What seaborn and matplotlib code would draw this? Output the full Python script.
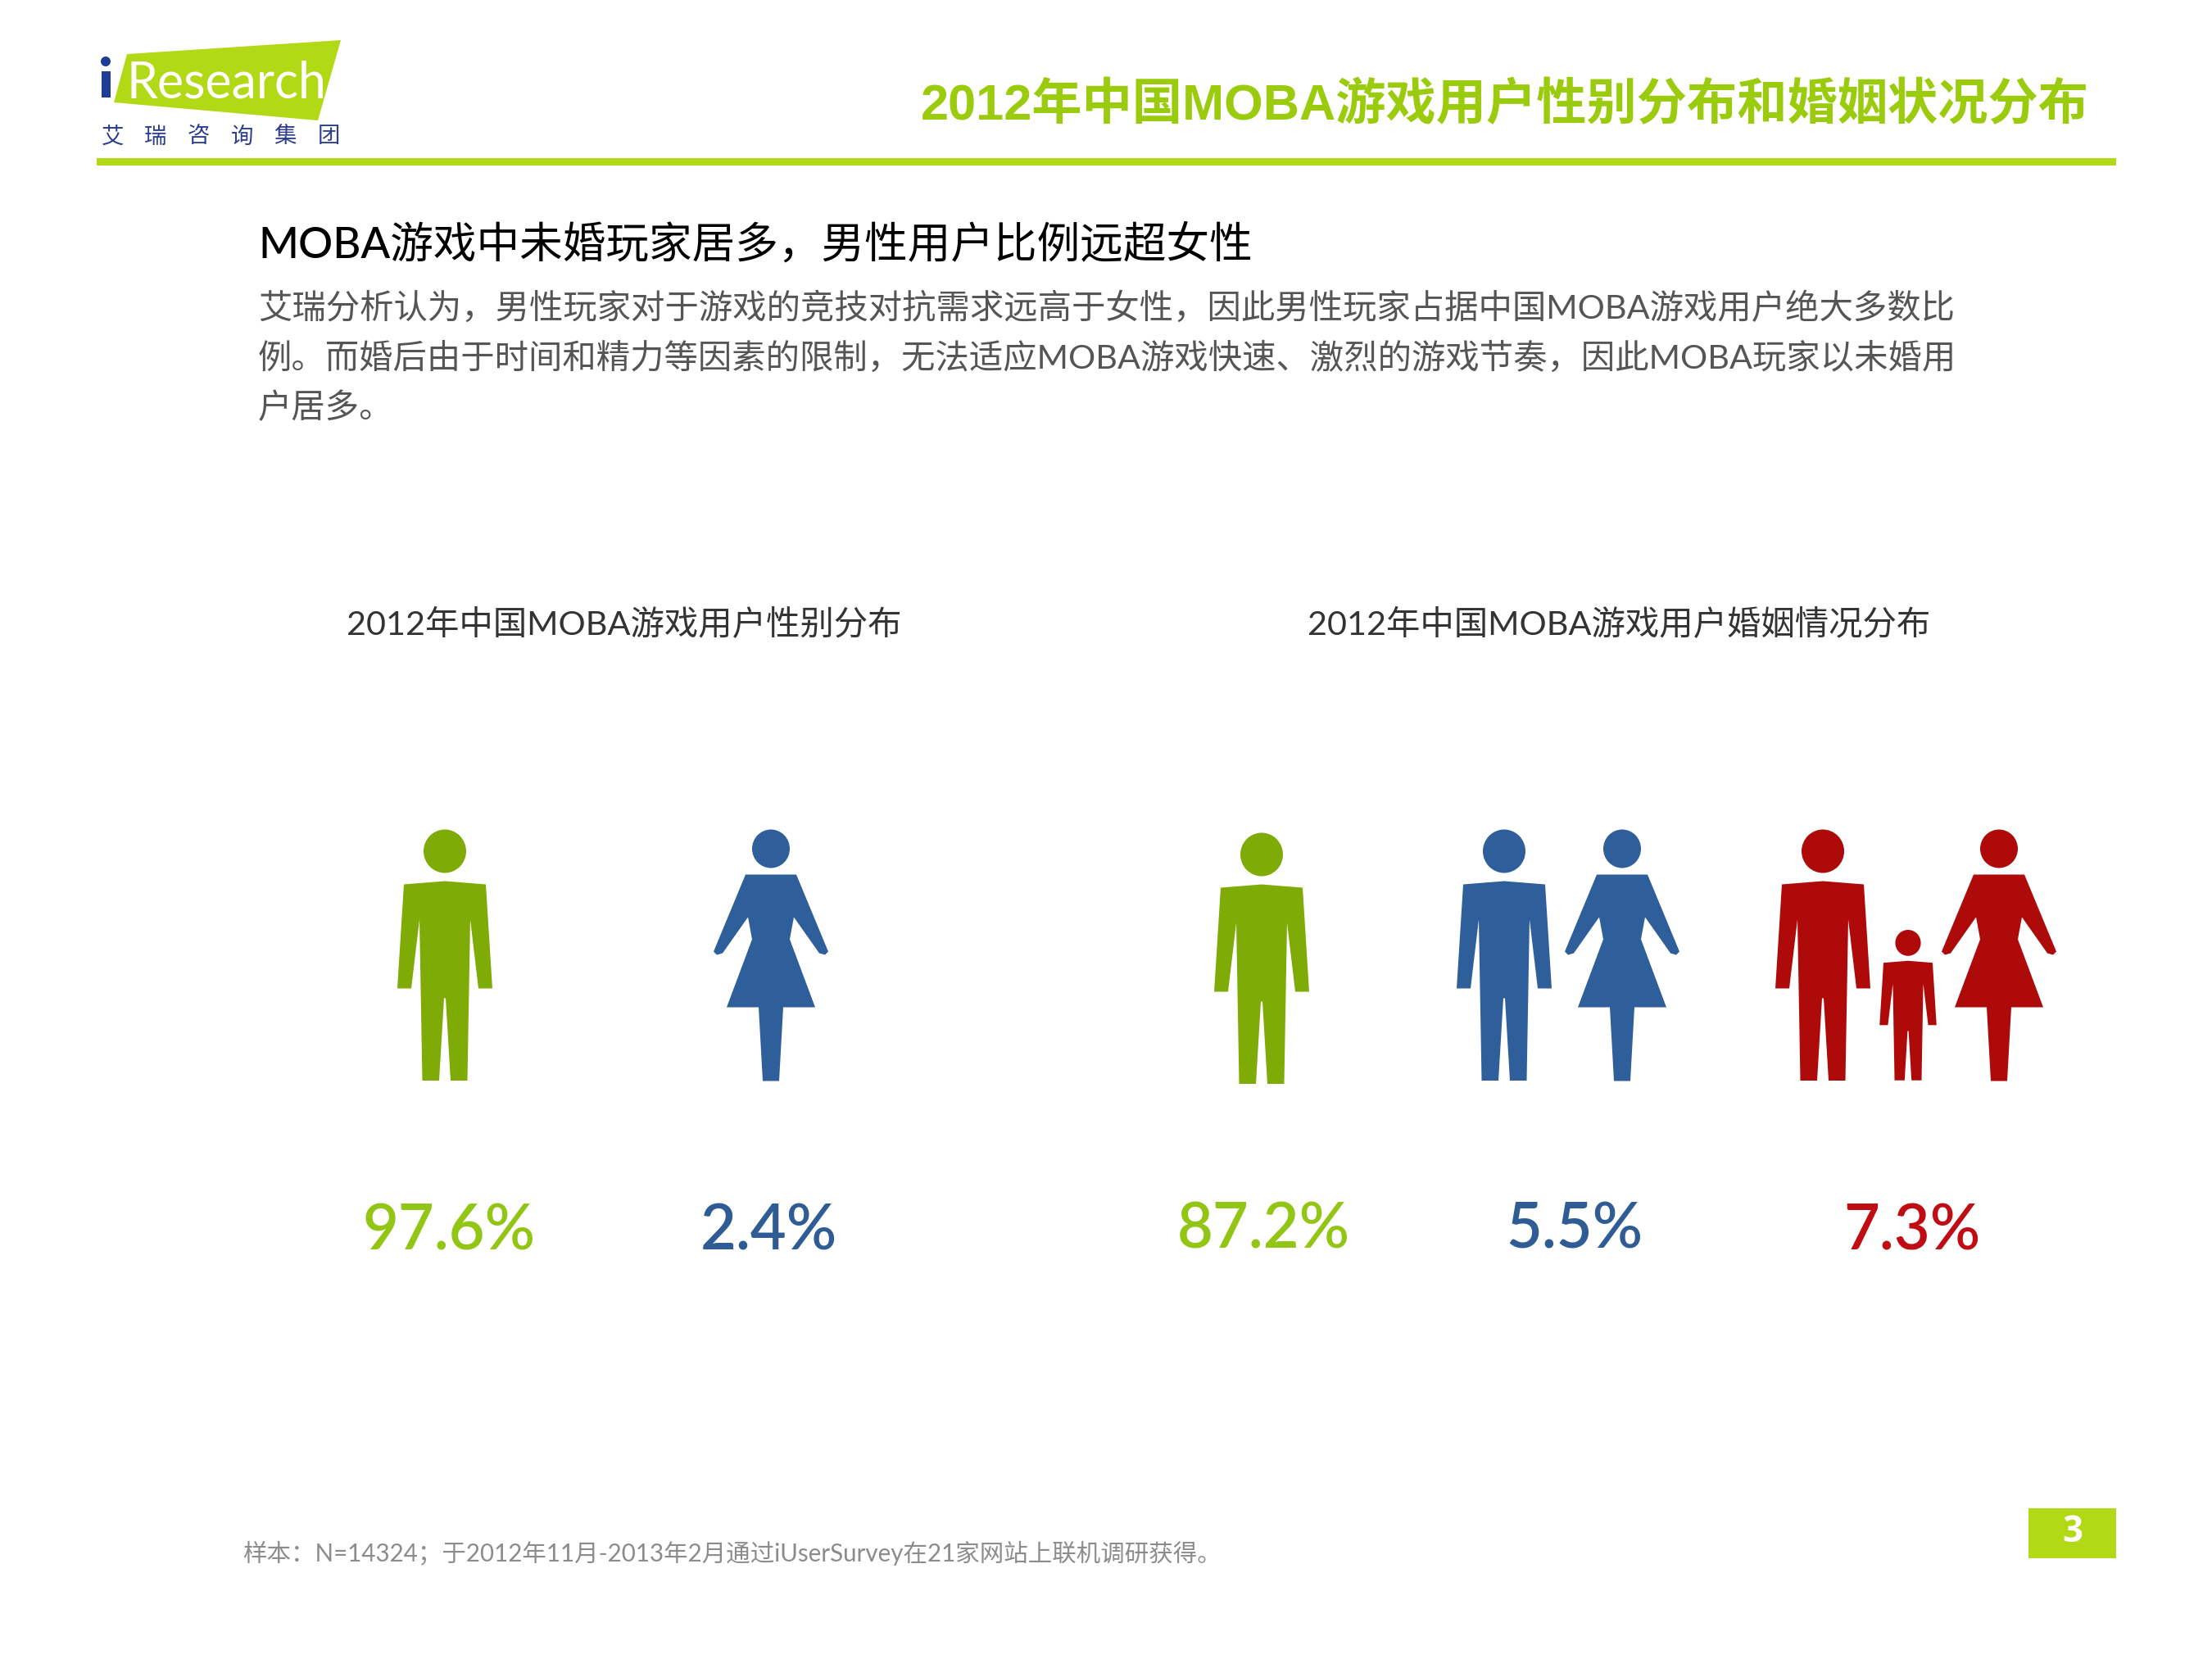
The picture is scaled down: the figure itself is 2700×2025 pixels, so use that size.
import matplotlib
matplotlib.use("Agg")
import matplotlib.pyplot as plt
import numpy as np
import pandas as pd
import seaborn as sns
from matplotlib.markers import MarkerStyle
from matplotlib.path import Path
from matplotlib.transforms import Affine2D

# chart values
gender_labels = ["男性", "女性"]
gender_share = [97.6, 2.4]
marital_labels = ["未婚", "已婚无子女", "已婚有子女"]
marital_share = [87.2, 5.5, 7.3]

page_title = "2012年中国MOBA游戏用户性别分布和婚姻状况分布"
headline = "MOBA游戏中未婚玩家居多，男性用户比例远超女性"
body_lines = [
    "艾瑞分析认为，男性玩家对于游戏的竞技对抗需求远高于女性，因此男性玩家占据中国MOBA游戏用户绝大多数比",
    "例。而婚后由于时间和精力等因素的限制，无法适应MOBA游戏快速、激烈的游戏节奏，因此MOBA玩家以未婚用",
    "户居多。",
]
gender_title = "2012年中国MOBA游戏用户性别分布"
marital_title = "2012年中国MOBA游戏用户婚姻情况分布"
source_note = "样本：N=14324；于2012年11月-2013年2月通过iUserSurvey在21家网站上联机调研获得。"
logo_name = "Research"
logo_cn = list("艾瑞咨询集团")
page_number = "3"

GREEN, BLUE, RED = "#7FAB06", "#2E5F9B", "#AE0A0A"
GREEN_TXT, BLUE_TXT, RED_TXT = "#93C514", "#2F5C95", "#C00D14"
LIME = "#B2D915"
NAVY = "#2D3D8F"

CJK = "Noto Sans CJK SC"
LATIN = "Lato"


def silhouette(half, head_w, head_h):
    # half outline (left side, top to bottom) mirrored to a full body, y up, head on top
    half = np.array(half, dtype=float)
    right = half[::-1].copy()
    right[:, 0] *= -1
    body = np.vstack([half, right])
    body[:, 1] = 153.5 - body[:, 1]
    head = Path.unit_circle().transformed(
        Affine2D().scale(head_w / 2, head_h / 2).translate(0, 153.5 - head_h / 2)
    )
    body_path = Path(np.vstack([body, body[0]]), closed=True)
    return MarkerStyle(Path.make_compound_path(body_path, head))


man_outline = [(0, 63), (-50, 67), (-58, 194), (-41, 194), (-31, 110), (-27.5, 306.5), (-7, 306.5), (-1, 206)]
woman_outline = [(-31, 55), (-70, 149), (-66, 153), (-59, 151), (-28, 107), (-23, 134), (-54, 217),
                 (-15, 217), (-10, 307)]

shapes = {
    "man": silhouette(man_outline, 52, 53),
    "woman": silhouette(woman_outline, 46, 47),
    "child": silhouette(man_outline, 52, 53),
}
# marker heights in points^2 (307 px tall adult, 184 px child, 300 dpi)
areas = {"man": (307 * 0.24) ** 2, "woman": (307 * 0.24) ** 2, "child": (184 * 0.24) ** 2}

people = pd.DataFrame(
    [
        ("man", "green", 543, 1166),
        ("woman", "blue", 941, 1166),
        ("man", "green", 1540, 1170),
        ("man", "blue", 1836, 1166),
        ("woman", "blue", 1980, 1166),
        ("man", "red", 2225, 1166),
        ("child", "red", 2329, 1227),
        ("woman", "red", 2440, 1166),
    ],
    columns=["kind", "group", "x", "y"],
)

sns.set_theme(style="white")
plt.rcParams["font.family"] = [LATIN, CJK, "DejaVu Sans"]

fig = plt.figure(figsize=(9, 6.75), dpi=300, facecolor="white")
ax = fig.add_axes([0, 0, 1, 1])

sns.scatterplot(
    data=people, x="x", y="y",
    hue="group", palette={"green": GREEN, "blue": BLUE, "red": RED},
    style="kind", markers=shapes,
    size="kind", sizes=areas,
    edgecolor="none", linewidth=0, legend=False, ax=ax,
)
ax.set_xlim(0, 2700)
ax.set_ylim(2025, 0)
ax.axis("off")

# logo
ax.fill([155, 416, 388, 139], [66, 49, 147, 125], color=LIME, lw=0)
ax.text(155, 119, logo_name, color="white", fontsize=14.6, family=["Lato"], va="baseline")
ax.add_patch(plt.Rectangle((124, 87), 11, 32, color="#1F3C96", lw=0))
ax.add_patch(plt.Circle((129, 75), 6, color="#1F3C96", lw=0))
for cx, ch in zip(np.linspace(137, 401, len(logo_cn)), logo_cn):
    ax.text(cx, 167, ch, color=NAVY, fontsize=6.6, family=[CJK], ha="center", va="center", fontweight="light")

# header
ax.add_patch(plt.Rectangle((118, 193), 2465, 9, color=LIME, lw=0))
ax.text(2550, 146, page_title, color="#9BCB0D", fontsize=14.7, fontweight="bold",
        family=["Liberation Sans", CJK], ha="right", va="baseline")

# text block
ax.text(315, 315, headline, color="black", fontsize=12.64, fontweight="medium", va="baseline")
for y, line in zip([389, 450, 510], body_lines):
    ax.text(315, y, line, color="#555555", fontsize=9.93, va="baseline")

ax.text(423, 775, gender_title, color="#333333", fontsize=9.95, va="baseline")
ax.text(1596, 775, marital_title, color="#333333", fontsize=9.95, va="baseline")

# percentages
for cx, v, c in zip([548, 938], gender_share, [GREEN_TXT, BLUE_TXT]):
    ax.text(cx, 1526, f"{v}%", color=c, fontsize=18.2, fontweight="semibold", ha="center", va="baseline")
for cx, by, v, c in zip([1542, 1922, 2334], [1523, 1523, 1526], marital_share, [GREEN_TXT, BLUE_TXT, RED_TXT]):
    ax.text(cx, by, f"{v}%", color=c, fontsize=18.2, fontweight="semibold", ha="center", va="baseline")

# footer
ax.text(296, 1906, source_note, color="#8C8C8C", fontsize=7.09, va="baseline")
ax.add_patch(plt.Rectangle((2476, 1841), 107, 61, color=LIME, lw=0))
ax.text(2530, 1870, page_number, color="white", fontsize=10.5, fontweight="bold",
        family=["Open Sans"], ha="center", va="center")

fig.savefig("out.png", dpi=300)
